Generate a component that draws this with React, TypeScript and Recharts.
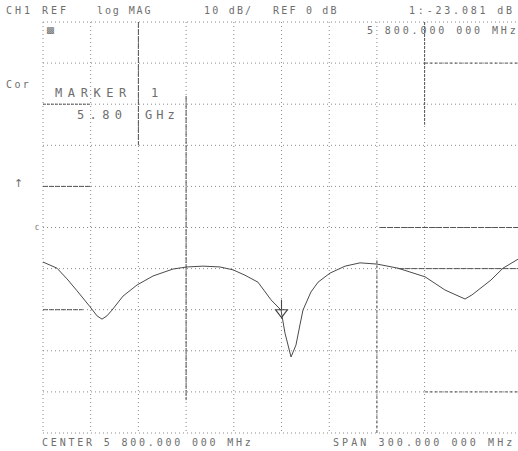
import React from 'react';
import { LineChart, Line, XAxis, YAxis, CartesianGrid, ReferenceLine, ReferenceDot } from 'recharts';

// Frequency (MHz) and log magnitude (dB) of the CH1 reflection trace
const freqMHz = [
  5650.0, 5658.8, 5665.1, 5671.4, 5679.6, 5684.0, 5687.1, 5690.2, 5693.4, 5700.3,
  5709.1, 5719.2, 5731.8, 5740.6, 5750.6, 5761.3, 5769.5, 5777.0, 5785.2, 5793.4,
  5799.7, 5802.2, 5806.0, 5809.1, 5811.6, 5813.5, 5818.5, 5823.0, 5830.5, 5840.0,
  5849.4, 5860.1, 5873.3, 5890.3, 5902.8, 5915.4, 5919.8, 5931.7, 5939.3, 5948.8,
];
const magDB = [
  -18.4, -19.9, -22.5, -25.4, -29.3, -31.5, -32.3, -31.5, -30.1, -26.7,
  -24.0, -21.8, -20.1, -19.6, -19.4, -19.6, -20.3, -21.6, -23.3, -27.6,
  -30.1, -35.7, -41.5, -38.6, -33.7, -30.1, -25.7, -23.3, -21.1, -19.4,
  -18.6, -18.9, -19.9, -22.0, -25.2, -27.4, -26.4, -22.8, -19.9, -17.7,
];

const xTicks = [5650, 5680, 5710, 5740, 5770, 5800, 5830, 5860, 5890, 5920, 5950];
const yTicks = [40, 30, 20, 10, 0, -10, -20, -30, -40, -50, -60];
const xDomain: [number, number] = [5650, 5950];
const yDomain: [number, number] = [-60, 40];

const markerFreq = 5800;
const markerMag = -30;

// emphasised graticule pieces visible in the scan: [x1, y1, x2, y2, dash]
const boldSegments: [number, number, number, number, string][] = [
  [5740, 22, 5740, -52, '6 1'],
  [5710, 40, 5710, 10, '6 1'],
  [5890, 40, 5890, 15, '3 1'],
  [5862, -10, 5950, -10, '6 1'],
  [5873, -20, 5950, -20, '6 1'],
  [5650, 0, 5680, 0, '5 1'],
  [5650, -30, 5675, -30, '5 1'],
  [5650, 20, 5680, 20, '3 1'],
  [5860, -18, 5860, -60, '3 2'],
  [5890, 30, 5950, 30, '3 2'],
  [5890, -50, 5950, -50, '3 2'],
];

const data = freqMHz.map((f, i) => ({ f, v: magDB[i] }));

type Lbl = { t: string; x: number; y: number; size?: number; ls?: number; font?: string };
const labels: Lbl[] = [
  { t: 'CH1 REF', x: 6, y: 11, ls: 3 },
  { t: 'log MAG', x: 97, y: 11, ls: 1.9 },
  { t: '10 dB/', x: 204, y: 11, ls: 2.2 },
  { t: 'REF 0 dB', x: 273, y: 11, ls: 2.2 },
  { t: '1:-23.081 dB', x: 409, y: 11, ls: 2.8 },
  { t: '5 800.000 000 MHz', x: 367, y: 31, ls: 2.9 },
  { t: 'Cor', x: 6, y: 85, ls: 2.4 },
  { t: 'MARKER', x: 55, y: 93, size: 12, ls: 5.6 },
  { t: '1', x: 151, y: 93, size: 12, ls: 5.6 },
  { t: '5.80', x: 77, y: 115, size: 12, ls: 5.4 },
  { t: 'GHz', x: 145, y: 115, size: 12, ls: 4 },
  { t: '↑', x: 14, y: 183, size: 11, ls: 0, font: 'DejaVu Sans' },
  { t: 'C', x: 35, y: 228, size: 7, ls: 0 },
  { t: '▩', x: 46, y: 30, size: 9, ls: 0, font: 'DejaVu Sans' },
  { t: 'CENTER 5 800.000 000 MHz', x: 42, y: 443, ls: 2.8 },
  { t: 'SPAN 300.000 000 MHz', x: 333, y: 443, ls: 3.1 },
];

const MarkerShape = (props: any) => {
  const { cx, cy } = props;
  return (
    <g stroke="#444" strokeWidth={1.1} fill="none">
      <line x1={cx} y1={cy - 10} x2={cx} y2={cy} />
      <path d={`M${cx - 6},${cy} L${cx + 6},${cy} L${cx},${cy + 8} Z`} />
    </g>
  );
};

export default function App() {
  return (
    <div style={{ position: 'absolute', left: 0, top: 0, width: 518, height: 451, background: '#fff', overflow: 'hidden' }}>
      <LineChart width={518} height={451} data={data} margin={{ top: 22, left: 43, right: -2, bottom: 18 }}>
        <XAxis dataKey="f" type="number" domain={xDomain} ticks={xTicks} hide />
        <YAxis type="number" domain={yDomain} ticks={yTicks} hide />
        <CartesianGrid stroke="#8a8a8a" strokeDasharray="1 3" strokeWidth={1} />
        {boldSegments.map((s, i) => (
          <ReferenceLine
            key={i}
            segment={[{ x: s[0], y: s[1] }, { x: s[2], y: s[3] }]}
            stroke="#555"
            strokeWidth={1}
            strokeDasharray={s[4]}
            ifOverflow="extendDomain"
          />
        ))}
        <Line type="linear" dataKey="v" stroke="#4a4a4a" strokeWidth={1} dot={false} isAnimationActive={false} />
        <ReferenceDot x={markerFreq} y={markerMag} r={6} shape={MarkerShape} />
      </LineChart>
      {labels.map((l, i) => (
        <div
          key={i}
          style={{
            position: 'absolute',
            left: l.x,
            top: l.y - (l.size ?? 10) / 2 - 1,
            fontFamily: l.font ?? '"DejaVu Sans Mono", monospace',
            fontSize: l.size ?? 10,
            lineHeight: `${(l.size ?? 10) + 2}px`,
            letterSpacing: l.ls ?? 2.8,
            color: '#6e6e6e',
            whiteSpace: 'pre',
          }}
        >
          {l.t}
        </div>
      ))}
    </div>
  );
}
